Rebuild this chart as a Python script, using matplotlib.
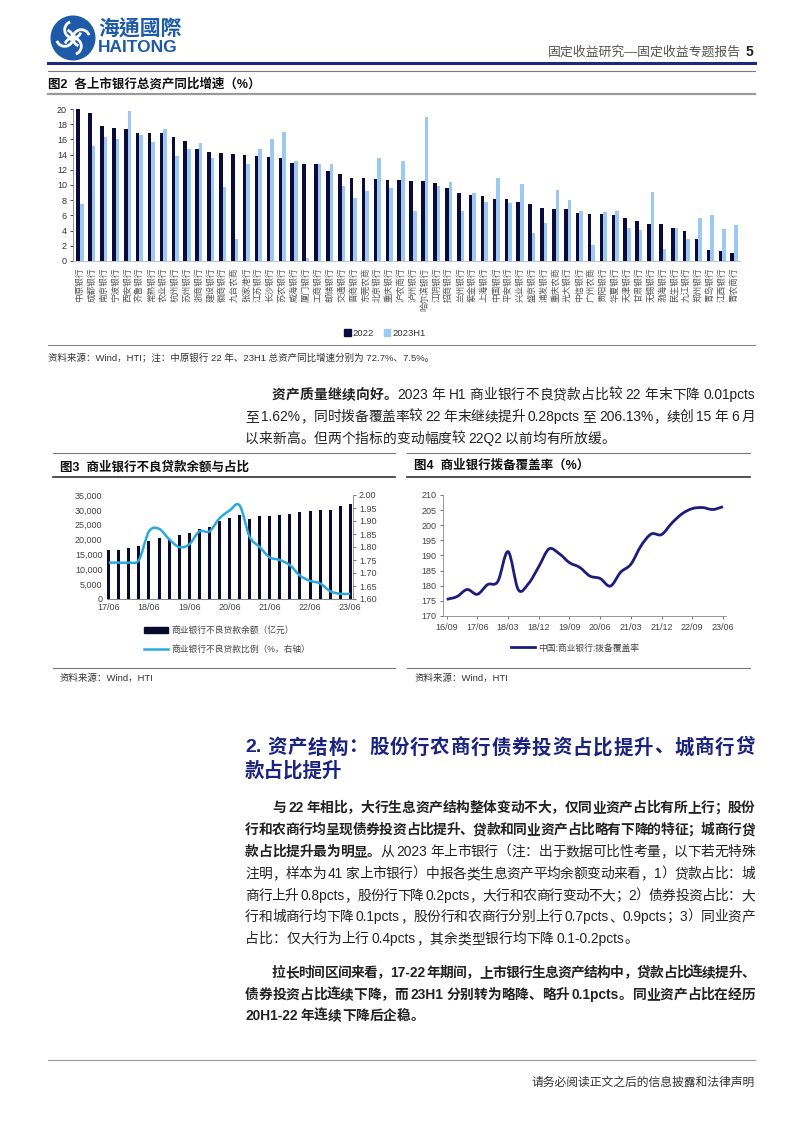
import re
import numpy as np
import matplotlib
matplotlib.use('Agg')
import matplotlib.pyplot as plt
from matplotlib.lines import Line2D
from matplotlib.patches import Patch, Circle, Arc, PathPatch
from matplotlib.path import Path
from matplotlib.ticker import FuncFormatter

plt.rcParams['font.family'] = ['Liberation Sans', 'Noto Sans CJK SC']

# ---- 图2 各上市银行总资产同比增速 ----
banks = ['中原银行', '成都银行', '南京银行', '宁波银行', '西安银行', '齐鲁银行', '常熟银行',
         '农业银行', '杭州银行', '苏州银行', '浙商银行', '建设银行', '徽商银行', '九台农商',
         '张家港行', '江苏银行', '长沙银行', '苏农银行', '威海银行', '厦门银行', '工商银行',
         '邮储银行', '交通银行', '晋商银行', '东莞农商', '北京银行', '重庆银行', '沪农商行',
         '泸州银行', '哈尔滨银行', '江阴银行', '招商银行', '兰州银行', '紫金银行', '上海银行',
         '中国银行', '平安银行', '兴业银行', '盛京银行', '浦发银行', '重庆农商', '光大银行',
         '中信银行', '广州农商', '贵阳银行', '华夏银行', '天津银行', '甘肃银行', '无锡银行',
         '渤海银行', '民生银行', '九江银行', '郑州银行', '青岛银行', '江西银行', '青农商行']
growth_2022 = [72.7, 19.5, 17.8, 17.45, 17.4, 16.8, 16.8, 16.8, 16.3, 15.8, 14.7, 14.4, 14.2, 14.1,
               14.0, 13.85, 13.7, 13.6, 12.9, 12.7, 12.7, 11.8, 11.4, 10.95, 10.9, 10.8, 10.6, 10.6,
               10.5, 10.5, 10.2, 9.6, 8.9, 8.75, 8.5, 8.2, 8.1, 7.7, 7.56, 7.0, 6.8, 6.8,
               6.3, 6.2, 6.15, 6.1, 5.7, 5.2, 4.9, 4.85, 4.35, 3.95, 2.85, 1.4, 1.35, 1.0]
growth_2023h1 = [7.5, 15.1, 16.3, 16.1, 19.8, 16.6, 15.6, 17.4, 13.8, 14.7, 15.5, 13.5, 9.8, 2.9,
                 12.7, 14.8, 16.1, 17.0, 13.1, 0.4, 12.7, 12.7, 9.85, 8.3, 9.2, 13.5, 9.6, 13.2,
                 6.6, 19.0, 9.9, 10.4, 6.6, 9.0, 7.8, 10.9, 7.65, 10.1, 3.7, 5.0, 9.3, 8.0,
                 6.6, 2.15, 6.4, 6.6, 4.35, 4.1, 9.05, 1.6, 4.3, 2.85, 5.6, 6.0, 4.25, 4.7]

# ---- 图3 商业银行不良贷款余额与占比 ----
npl_dates = ['17/06', '17/09', '17/12', '18/03', '18/06', '18/09', '18/12', '19/03', '19/06',
             '19/09', '19/12', '20/03', '20/06', '20/09', '20/12', '21/03', '21/06', '21/09',
             '21/12', '22/03', '22/06', '22/09', '22/12', '23/03', '23/06']
npl_balance = [16358, 16652, 17057, 17742, 19571, 20400, 20254, 21571, 22352, 23672, 24135,
               26137, 27365, 28350, 27015, 27883, 27881, 28300, 28470, 29286, 29548, 29881,
               29829, 31241, 32035]
npl_ratio = [1.74, 1.74, 1.74, 1.75, 1.86, 1.87, 1.83, 1.80, 1.81, 1.86, 1.86, 1.91, 1.94,
             1.96, 1.84, 1.80, 1.76, 1.75, 1.73, 1.69, 1.67, 1.66, 1.63, 1.62, 1.62]

# ---- 图4 商业银行拨备覆盖率 ----
cov_dates = ['16/09', '16/12', '17/03', '17/06', '17/09', '17/12', '18/03', '18/06', '18/09',
             '18/12', '19/03', '19/06', '19/09', '19/12', '20/03', '20/06', '20/09', '20/12',
             '21/03', '21/06', '21/09', '21/12', '22/03', '22/06', '22/09', '22/12', '23/03', '23/06']
coverage = [175.52, 176.40, 178.76, 177.18, 180.39, 181.42, 191.28, 178.70, 180.73, 186.31,
            192.18, 190.61, 187.63, 186.08, 183.20, 182.40, 179.89, 184.47, 187.10, 193.23,
            197.12, 196.91, 200.69, 203.78, 205.50, 205.85, 205.20, 206.13]

W, H = 802, 1133
fig = plt.figure(figsize=(W / 100, H / 100), dpi=100)
renderer = fig.canvas.get_renderer()


def add_ax(x0, y0, x1, y1):
    return fig.add_axes([x0 / W, 1 - y1 / H, (x1 - x0) / W, (y1 - y0) / H])


def put(x, y, s, **kw):
    return fig.text(x / W, 1 - y / H, s, **kw)


def hline(x0, x1, y, color, lw):
    fig.add_artist(Line2D([x0 / W, x1 / W], [1 - y / H, 1 - y / H], color=color, lw=lw))


def smooth_path(xs, ys):
    # excel-like smoothed line: cubic bezier through the points
    pts = np.column_stack([xs, ys]).astype(float)
    verts = [pts[0]]
    codes = [Path.MOVETO]
    n = len(pts)
    for i in range(n - 1):
        p0 = pts[i - 1] if i > 0 else pts[i]
        p1, p2 = pts[i], pts[i + 1]
        p3 = pts[i + 2] if i + 2 < n else pts[i + 1]
        verts += [p1 + (p2 - p0) / 6, p2 - (p3 - p1) / 6, p2]
        codes += [Path.CURVE4] * 3
    return Path(verts, codes)


def text_line(x0, x1, y, runs, size=9.9, color='#222222', justify=True):
    # lay out a line token by token so it can be justified like the page
    toks = []
    for s, wt in runs:
        for tok in re.findall(r'[A-Za-z0-9.%\-]+|\s|.', s):
            toks.append((tok, wt))
    objs = []
    widths = []
    for tok, wt in toks:
        if tok == ' ':
            objs.append(None)
            widths.append(size * 1.389 * 0.22)
            continue
        t = put(x0, y, tok, fontsize=size, weight=wt, color=color, va='center', ha='left')
        objs.append(t)
        widths.append(t.get_window_extent(renderer).width)
    gap = 0
    if justify and len(toks) > 1:
        gap = (x1 - x0 - sum(widths)) / (len(toks) - 1)
    x = x0
    for t, w in zip(objs, widths):
        if t is not None:
            t.set_position((x / W, 1 - y / H))
        x += w + gap


# ---- header ----
blue = '#1d5aa8'
lax = add_ax(49, 14, 97, 62)
lax.set_xlim(-1.1, 1.1)
lax.set_ylim(-1.1, 1.1)
lax.set_aspect('equal')
lax.axis('off')
lax.add_patch(Circle((0, 0), 1, color=blue))
for a in (0, 90, 180, 270):
    r = np.deg2rad(a)
    lax.add_patch(Arc((0.38 * np.cos(r), 0.38 * np.sin(r)), 0.76, 0.76, theta1=a + 20,
                      theta2=a + 250, color='white', lw=2.0))
lax.add_patch(Circle((0, 0), 0.13, color='white'))
put(98, 29, '海通國際', fontsize=15, weight='bold', color=blue, va='center',
    family=['Noto Sans CJK TC', 'DejaVu Sans'])
put(98, 47, 'HAITONG', fontsize=12.5, weight='bold', color=blue, va='center')
put(741, 52, '固定收益研究—固定收益专题报告', fontsize=9.3, color='#555555', ha='right', va='center')
put(746, 52, '5', fontsize=10, weight='bold', color='#222222', ha='left', va='center')
hline(48, 755, 63, '#1b2a7c', 2.2)
hline(48, 755, 70.5, '#777777', 0.8)

# ---- 图2 ----
put(48, 84, '图2  各上市银行总资产同比增速（%）', fontsize=9, weight='bold', color='#111111', va='center')
hline(48, 755, 94, '#9a9a9a', 1.6)

ax = add_ax(73.3, 109, 740, 261)
x = np.arange(len(banks))
ax.bar(x - 0.15, growth_2022, width=0.3, color='#0b0b3b', label='2022')
ax.bar(x + 0.15, growth_2023h1, width=0.3, color='#9cc8f2', label='2023H1')
ax.set_xlim(-0.56, len(banks) - 0.5)
ax.set_ylim(0, 20)
ax.set_yticks(range(0, 21, 2))
ax.set_xticks(x)
ax.set_xticklabels(banks, rotation=90, fontsize=6.2, color='#555555', va='top')
ax.tick_params(axis='x', length=0, pad=5)
ax.tick_params(axis='y', labelsize=6.5, colors='#333333', length=2.5, width=0.6, pad=2)
for s in ('top', 'right'):
    ax.spines[s].set_visible(False)
ax.spines['left'].set_color('#888888')
ax.spines['left'].set_linewidth(0.6)
ax.spines['bottom'].set_color('#bbbbbb')
ax.spines['bottom'].set_linewidth(0.6)
fig.legend(handles=[Patch(color='#0b0b3b'), Patch(color='#9cc8f2')], labels=['2022', '2023H1'],
           loc='center', bbox_to_anchor=(385 / W, 1 - 333 / H), ncol=2, frameon=False,
           fontsize=6.8, handlelength=0.7, handleheight=0.7, handletextpad=0.2,
           columnspacing=1.0, labelcolor='#333333')
hline(48, 755, 345, '#888888', 0.8)
put(48, 359, '资料来源：Wind，HTI；注：中原银行 22 年、23H1 总资产同比增速分别为 72.7%、7.5%。',
    fontsize=6.8, color='#333333', va='center')

# ---- 资产质量 paragraph ----
text_line(272, 755, 395, [('资产质量继续向好。', 'bold'),
                          ('2023 年 H1 商业银行不良贷款占比较 22 年末下降 0.01pcts', 'normal')])
text_line(245, 755, 417, [('至 1.62%，同时拨备覆盖率较 22 年末继续提升 0.28pcts 至 206.13%，续创 15 年 6 月', 'normal')])
text_line(245, 755, 439, [('以来新高。但两个指标的变动幅度较 22Q2 以前均有所放缓。', 'normal')], justify=False)

# ---- 图3 ----
hline(53, 395, 453, '#777777', 0.8)
put(60, 467, '图3  商业银行不良贷款余额与占比', fontsize=9, weight='bold', color='#111111', va='center')
hline(53, 395, 477, '#333333', 1.2)

ax3 = add_ax(106.7, 495, 353.3, 599)
q = np.arange(len(npl_dates))
ax3.bar(q, npl_balance, width=0.3, color='#0a0a2e')
ax3.set_xlim(-0.2, len(npl_dates) - 0.7)
ax3.set_ylim(0, 35000)
ax3.set_yticks(range(0, 35001, 5000))
ax3.yaxis.set_major_formatter(FuncFormatter(lambda v, p: f'{v:,.0f}'))
ax3.set_xticks(q[::4])
ax3.set_xticklabels(npl_dates[::4])
ax3.tick_params(axis='both', labelsize=6.5, colors='#444444', length=0, pad=3)
for s in ('top', 'left', 'right'):
    ax3.spines[s].set_visible(False)
ax3.spines['bottom'].set_color('#888888')
ax3.spines['bottom'].set_linewidth(0.7)
ax3r = ax3.twinx()
ax3r.set_ylim(1.60, 2.00)
ax3r.set_yticks(np.arange(1.60, 2.001, 0.05))
ax3r.yaxis.set_major_formatter(FuncFormatter(lambda v, p: f'{v:.2f}'))
ax3r.tick_params(axis='y', labelsize=6.5, colors='#444444', length=2, width=0.5, pad=2)
for s in ('top', 'left', 'bottom'):
    ax3r.spines[s].set_visible(False)
ax3r.spines['right'].set_color('#888888')
ax3r.spines['right'].set_linewidth(0.6)
ax3r.add_patch(PathPatch(smooth_path(q, npl_ratio), fill=False, edgecolor='#2aa9e0', lw=1.8))
fig.legend(handles=[Patch(color='#0a0a2e'), Line2D([], [], color='#2aa9e0', lw=1.8)],
           labels=['商业银行不良贷款余额（亿元）', '商业银行不良贷款比例（%，右轴）'],
           loc='center left', bbox_to_anchor=(136 / W, 1 - 640 / H), frameon=False,
           fontsize=6.3, handlelength=2.8, handleheight=0.55, handletextpad=0.3,
           labelspacing=1.1, labelcolor='#444444')
hline(53, 395, 668, '#777777', 0.8)
put(60, 678, '资料来源：Wind，HTI', fontsize=6.8, color='#333333', va='center')

# ---- 图4 ----
hline(407, 750, 453, '#777777', 0.8)
put(414, 466, '图4  商业银行拨备覆盖率（%）', fontsize=9, weight='bold', color='#111111', va='center')
hline(407, 750, 477, '#333333', 1.2)

ax4 = add_ax(443.3, 495, 726, 616)
c = np.arange(len(cov_dates))
ax4.add_patch(PathPatch(smooth_path(c, coverage), fill=False, edgecolor='#1c1c7c', lw=2.0))
ax4.set_xlim(-0.33, len(cov_dates) - 0.7)
ax4.set_ylim(170, 210)
ax4.set_yticks(range(170, 211, 5))
ax4.set_xticks(c[::3])
ax4.set_xticklabels(cov_dates[::3])
ax4.tick_params(axis='both', labelsize=6.5, colors='#444444', length=2, width=0.5, pad=3)
for s in ('top', 'right'):
    ax4.spines[s].set_visible(False)
for s in ('left', 'bottom'):
    ax4.spines[s].set_color('#888888')
    ax4.spines[s].set_linewidth(0.6)
fig.legend(handles=[Line2D([], [], color='#1c1c7c', lw=2.0)], labels=['中国:商业银行:拨备覆盖率'],
           loc='center left', bbox_to_anchor=(503 / W, 1 - 648 / H), frameon=False,
           fontsize=6.3, handlelength=2.8, handletextpad=0.3, labelcolor='#444444')
hline(407, 750, 668, '#777777', 0.8)
put(414, 678, '资料来源：Wind，HTI', fontsize=6.8, color='#333333', va='center')

# ---- section 2 ----
navy = '#1a2380'
text_line(245, 755, 748, [('2. 资产结构：股份行农商行债券投资占比提升、城商行贷', 'bold')], size=14, color=navy)
put(245, 771, '款占比提升', fontsize=14, weight='bold', color=navy, va='center')

text_line(272, 755, 808, [('与 22 年相比，大行生息资产结构整体变动不大，仅同业资产占比有所上行；股份', 'bold')])
text_line(245, 755, 830, [('行和农商行均呈现债券投资占比提升、贷款和同业资产占比略有下降的特征；城商行贷', 'bold')])
text_line(245, 755, 852, [('款占比提升最为明显。', 'bold'),
                          ('从 2023 年上市银行（注：出于数据可比性考量，以下若无特殊', 'normal')])
text_line(245, 755, 874, [('注明，样本为 41 家上市银行）中报各类生息资产平均余额变动来看，1）贷款占比：城', 'normal')])
text_line(245, 755, 896, [('商行上升 0.8pcts，股份行下降 0.2pcts，大行和农商行变动不大；2）债券投资占比：大', 'normal')])
text_line(245, 755, 917, [('行和城商行均下降 0.1pcts，股份行和农商行分别上行 0.7pcts、0.9pcts；3）同业资产', 'normal')])
text_line(245, 755, 939, [('占比：仅大行为上行 0.4pcts，其余类型银行均下降 0.1-0.2pcts。', 'normal')], justify=False)

text_line(272, 755, 973, [('拉长时间区间来看，17-22 年期间，上市银行生息资产结构中，贷款占比连续提升、', 'bold')])
text_line(245, 755, 995, [('债券投资占比连续下降，而 23H1 分别转为略降、略升 0.1pcts。同业资产占比在经历', 'bold')])
text_line(245, 755, 1016, [('20H1-22 年连续下降后企稳。', 'bold')], justify=False)

# ---- footer ----
hline(48, 755, 1060, '#999999', 0.8)
put(755, 1083, '请务必阅读正文之后的信息披露和法律声明', fontsize=8.5, color='#333333', ha='right', va='center')

fig.savefig('out.png', dpi=100)
